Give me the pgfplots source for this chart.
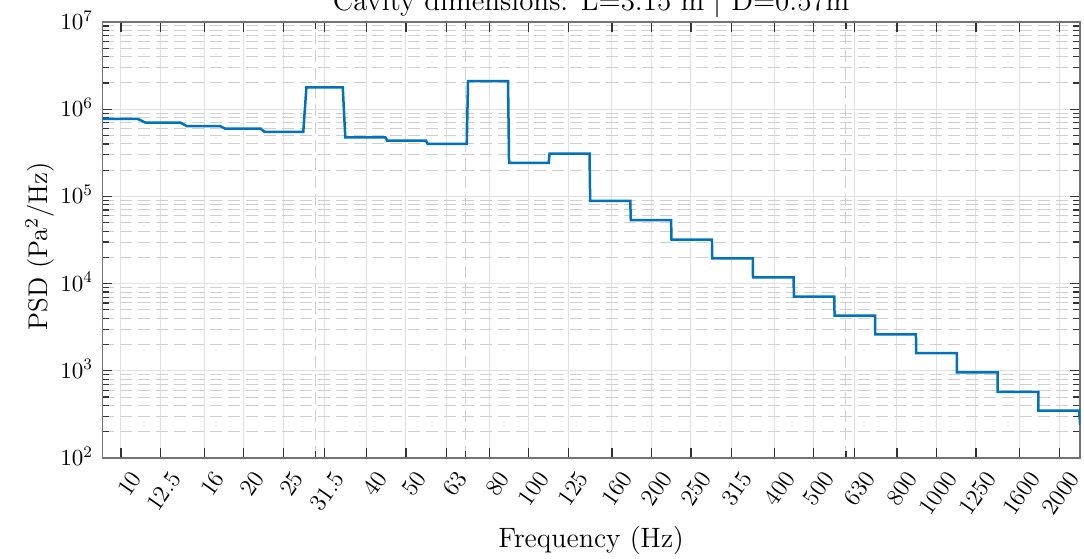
\documentclass[border=0pt]{standalone}
\usepackage{fix-cm}
\usepackage{pgfplots}
\pgfplotsset{compat=1.18}
\definecolor{psdblue}{HTML}{0072BD}

\begin{document}
\begin{tikzpicture}
\begin{axis}[
  scale only axis,
  width=488.85pt, height=218pt,
  xmode=log, ymode=log,
  xmin=9, xmax=2250, ymin=1e2, ymax=1e7,
  xtick={10,12.5,16,20,25,31.5,40,50,63,80,100,125,160,200,250,315,400,500,630,800,1000,1250,1600,2000},
  xticklabels={10,12.5,16,20,25,31.5,40,50,63,80,100,125,160,200,250,315,400,500,630,800,1000,1250,1600,2000},
  minor xtick={30,70,600},
  ytick={1e2,1e3,1e4,1e5,1e6,1e7},
  grid=both,
  major grid style={black!12, line width=0.5pt},
  minor grid style={black!19, line width=0.5pt, dash pattern=on 6pt off 3pt},
  axis line style={black!55, line width=0.6pt},
  major tick length=5pt, minor tick length=3.5pt,
  tick style={black!80, line width=0.6pt},
  tick label style={font=\fontsize{11.5}{13}\selectfont},
  xticklabel style={font=\fontsize{12}{13}\selectfont, rotate=55, anchor=north east, inner sep=0pt, xshift=-2pt, yshift=-6.5pt},
  yticklabel style={anchor=base east, inner sep=0pt, xshift=-4.5pt, yshift=-3.7pt},
  xlabel={Frequency (Hz)},
  ylabel={PSD (Pa$^2$/Hz)},
  label style={font=\fontsize{13.5}{15}\selectfont},
  xlabel style={font=\fontsize{14}{16}\selectfont, at={(axis description cs:0.5,-0.19)}, anchor=center},
  ylabel style={at={(axis description cs:-0.064,0.485)}, anchor=center},
  every axis title shift=0pt,
  title={Cavity dimensions: L=3.15 m $|$ D=0.57m},
  title style={at={(axis description cs:0.5,1.026)}, anchor=base, font=\fontsize{14.5}{16}\selectfont},
]
% one-third-octave band levels, held constant across each band
\addplot[psdblue, line width=1.25pt] coordinates {
  (8.5,7.73e5) (11.0,7.73e5) (11.5,7.0e5)
  (14.0,7.0e5) (14.5,6.4e5)
  (17.5,6.4e5) (18.0,6.0e5)
  (22.0,6.0e5) (22.5,5.5e5)
  (28.0,5.5e5) (28.5,1.78e6)
  (35.0,1.78e6) (35.5,4.75e5)
  (44.5,4.75e5) (45.0,4.35e5)
  (56.0,4.35e5) (56.5,4.0e5)
  (70.5,4.0e5) (71.0,2.1e6)
  (89.0,2.1e6) (89.5,2.42e5)
  (112.0,2.42e5) (112.5,3.1e5)
  (141.0,3.1e5) (141.5,8.9e4)
  (177.5,8.9e4) (178.0,5.35e4)
  (223.5,5.35e4) (224.0,3.2e4)
  (281.5,3.2e4) (282.0,1.95e4)
  (354.5,1.95e4) (355.0,1.18e4)
  (446.5,1.18e4) (447.0,7.1e3)
  (562.0,7.1e3) (562.5,4.3e3)
  (707.5,4.3e3) (708.0,2.62e3)
  (891.0,2.62e3) (891.5,1.59e3)
  (1122.0,1.59e3) (1122.5,960)
  (1412.5,960) (1413.0,575)
  (1778.0,575) (1778.5,349)
  (2238.5,349) (2252,240)
};
\end{axis}
\pgfresetboundingbox
\path[use as bounding box] ([xshift=-51.15pt,yshift=-50pt]current axis.south west) rectangle ([xshift=2pt,yshift=11pt]current axis.north east);
\end{tikzpicture}
\end{document}
